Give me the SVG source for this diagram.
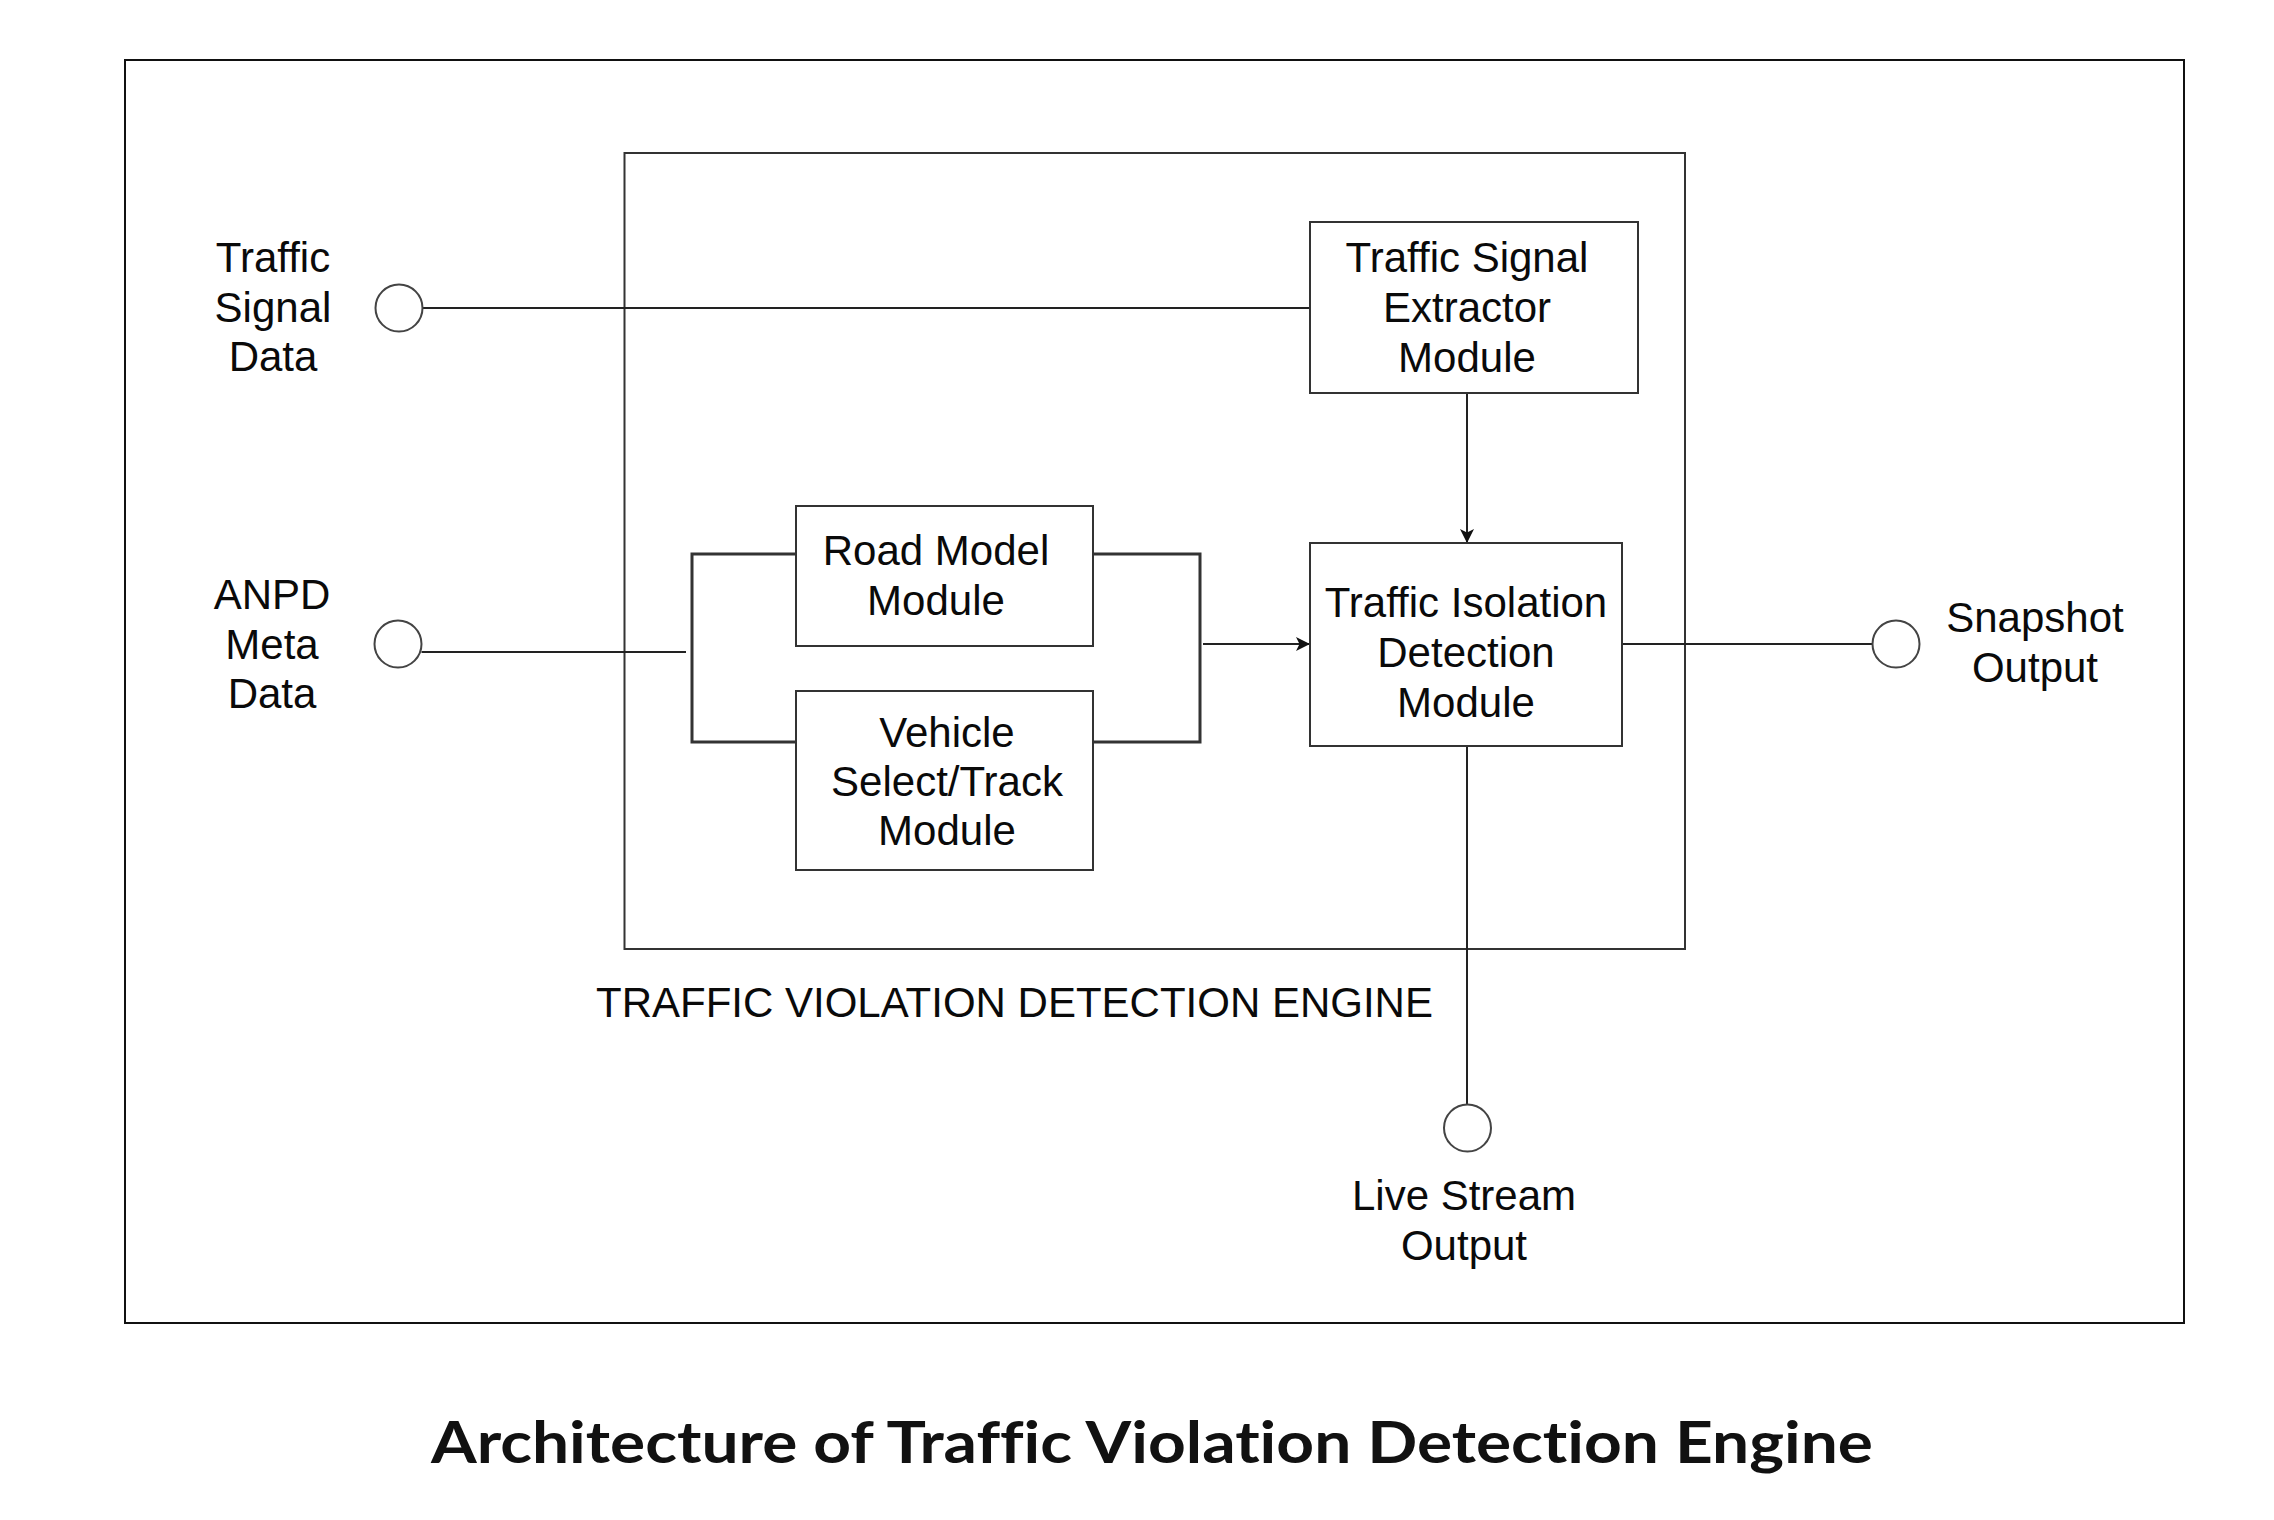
<svg xmlns="http://www.w3.org/2000/svg" width="2274" height="1520" viewBox="0 0 2274 1520">
  <defs>
    <style>
      .frame { fill: none; stroke: #111; stroke-width: 2; }
      .box { fill: #fff; stroke: #333; stroke-width: 2; }
      .port { fill: #fff; stroke: #444; stroke-width: 2; }
      .wire { fill: none; stroke: #222; stroke-width: 2; }
      .bracket { fill: none; stroke: #333; stroke-width: 3; }
      .lbl { font-family: "Liberation Sans", Arial, Helvetica, sans-serif; font-size: 42px; fill: #0a0a0a; text-anchor: middle; }
      .eng { font-family: "Liberation Sans", Arial, Helvetica, sans-serif; font-size: 42px; fill: #0a0a0a; }
      .title { font-family: Lato, "Open Sans", sans-serif; font-weight: 700; font-size: 57px; fill: #111; font-variant-ligatures: none; font-feature-settings: "liga" 0, "dlig" 0; }
    </style>
    <marker id="arrow" markerUnits="userSpaceOnUse" markerWidth="16" markerHeight="14" viewBox="0 0 16 14" refX="14" refY="7" orient="auto">
      <path d="M0,0 L14,7 L0,14 L3.5,7 z" fill="#111"/>
    </marker>
  </defs>

  <rect width="2274" height="1520" fill="#fff"/>

  <g id="outer-frame">
    <rect class="frame" x="125" y="60" width="2059" height="1263"/>
  </g>

  <g id="engine">
    <rect class="box" x="624.5" y="153" width="1060.5" height="796" style="fill:none"/>
    <text class="eng" x="596" y="1017">TRAFFIC VIOLATION DETECTION ENGINE</text>
  </g>

  <g id="connectors">
    <line class="wire" x1="422.5" y1="308" x2="1310" y2="308"/>
    <line class="wire" x1="421.5" y1="652" x2="686" y2="652"/>
    <path class="bracket" d="M797,554 H692 V742 H797"/>
    <path class="bracket" d="M1093,554 H1200 V742 H1093"/>
    <line class="wire" x1="1203" y1="644" x2="1310" y2="644" marker-end="url(#arrow)"/>
    <line class="wire" x1="1467" y1="393" x2="1467" y2="543" marker-end="url(#arrow)"/>
    <line class="wire" x1="1622" y1="644" x2="1872.5" y2="644"/>
    <line class="wire" x1="1467" y1="746" x2="1467" y2="1104.5"/>
  </g>

  <g id="traffic-signal-data">
    <circle class="port" cx="399" cy="308" r="23.5"/>
    <text class="lbl" x="273" y="272">Traffic</text>
    <text class="lbl" x="273" y="322">Signal</text>
    <text class="lbl" x="273" y="371">Data</text>
  </g>

  <g id="anpd-meta-data">
    <circle class="port" cx="398" cy="644" r="23.5"/>
    <text class="lbl" x="272" y="609">ANPD</text>
    <text class="lbl" x="272" y="659">Meta</text>
    <text class="lbl" x="272" y="708">Data</text>
  </g>

  <g id="traffic-signal-extractor">
    <rect class="box" x="1310" y="222" width="328" height="171"/>
    <text class="lbl" x="1467" y="272">Traffic Signal</text>
    <text class="lbl" x="1467" y="322">Extractor</text>
    <text class="lbl" x="1467" y="372">Module</text>
  </g>

  <g id="road-model">
    <rect class="box" x="796" y="506" width="297" height="140"/>
    <text class="lbl" x="936" y="565">Road Model</text>
    <text class="lbl" x="936" y="615">Module</text>
  </g>

  <g id="vehicle-select-track">
    <rect class="box" x="796" y="691" width="297" height="179"/>
    <text class="lbl" x="947" y="747">Vehicle</text>
    <text class="lbl" x="947" y="796">Select/Track</text>
    <text class="lbl" x="947" y="845">Module</text>
  </g>

  <g id="traffic-isolation-detection">
    <rect class="box" x="1310" y="543" width="312" height="203"/>
    <text class="lbl" x="1466" y="617">Traffic Isolation</text>
    <text class="lbl" x="1466" y="667">Detection</text>
    <text class="lbl" x="1466" y="717">Module</text>
  </g>

  <g id="snapshot-output">
    <circle class="port" cx="1896" cy="644" r="23.5"/>
    <text class="lbl" x="2035" y="632">Snapshot</text>
    <text class="lbl" x="2035" y="682">Output</text>
  </g>

  <g id="live-stream-output">
    <circle class="port" cx="1467.5" cy="1128" r="23.5"/>
    <text class="lbl" x="1464" y="1210">Live Stream</text>
    <text class="lbl" x="1464" y="1260">Output</text>
  </g>

  <g id="caption">
    <text class="title" x="431" y="1463" textLength="1442" lengthAdjust="spacingAndGlyphs">Architecture of Traffic Violation Detection Engine</text>
  </g>
</svg>
